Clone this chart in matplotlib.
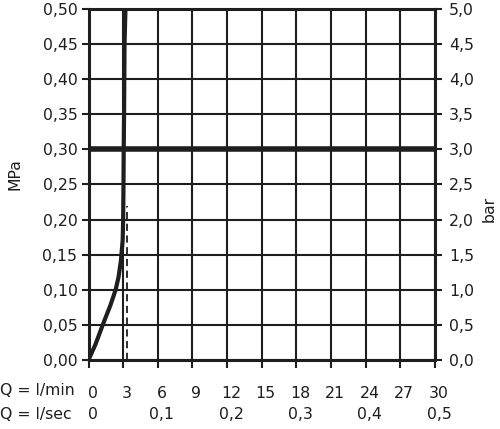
import numpy as np
import matplotlib.pyplot as plt
from matplotlib import transforms

plt.rcParams['font.family'] = ['DejaVu Sans']

# flow curve (l/min vs MPa)
q_lmin = [0, 0.6, 1.28, 1.9, 2.35, 2.6, 2.81, 2.96, 3.0, 3.03, 3.05, 3.08, 3.1, 3.12, 3.2]
p_mpa = [0, 0.022, 0.052, 0.078, 0.1, 0.118, 0.142, 0.171, 0.2, 0.25, 0.3, 0.35, 0.4, 0.45, 0.5]
dash_q = [3.3, 3.3]
dash_p = [0, 0.22]
limit_p = 0.30

x_ticks = list(range(0, 31, 3))
x_labels = [str(v) for v in x_ticks]
sec_pos = [0, 6, 12, 18, 24, 30]
sec_labels = ["0", "0,1", "0,2", "0,3", "0,4", "0,5"]
y_ticks = np.arange(0, 0.501, 0.05)
y_labels = ["%.2f" % v for v in y_ticks]
bar_ticks = np.arange(0, 5.01, 0.5)
bar_labels = ["%.1f" % v for v in bar_ticks]

col = "#1e1e1e"
fs = 11.3

fig = plt.figure(figsize=(5, 4.29), dpi=100)
ax = fig.add_axes([0.177, 0.161, 0.693, 0.818])

ax.set_xlim(0, 30)
ax.set_ylim(0, 0.5)
ax.set_xticks(x_ticks)
ax.set_xticklabels(x_labels, fontsize=fs, color=col)
ax.set_yticks(y_ticks)
ax.set_yticklabels([s.replace(".", ",") for s in y_labels], fontsize=fs, color=col)
ax.grid(True, color=col, linewidth=1.5)
ax.set_axisbelow(True)
ax.tick_params(axis='y', length=5, width=1.5, color=col, pad=3)
ax.tick_params(axis='x', length=6, width=1.5, color=col, pad=13)
for s in ax.spines.values():
    s.set_linewidth(2.2)
    s.set_color(col)
    s.set_zorder(5)

# labels in the original sit a few px right of their ticks
shift = transforms.ScaledTranslation(4 / 100, 0, fig.dpi_scale_trans)
for lab in ax.get_xticklabels():
    lab.set_transform(lab.get_transform() + shift)

ax.axhline(limit_p, color=col, linewidth=4, zorder=3)
ax.plot(dash_q, dash_p, color=col, linewidth=1.3, linestyle=(0, (4, 2.5)), zorder=3)
ax.plot(q_lmin, p_mpa, color=col, linewidth=3, solid_capstyle='butt', zorder=4)

ax.set_ylabel("MPa", fontsize=fs, color=col)
ax.yaxis.set_label_coords(-0.19, 0.53)

ax2 = ax.twinx()
ax2.set_ylim(0, 5)
ax2.set_yticks(bar_ticks)
ax2.set_yticklabels([s.replace(".", ",") for s in bar_labels], fontsize=fs, color=col)
ax2.tick_params(axis='y', length=5, width=1.5, color=col, pad=5)
for s in ax2.spines.values():
    s.set_visible(False)
ax2.set_ylabel("bar", fontsize=fs, color=col)
ax2.yaxis.set_label_coords(1.135, 0.43)

trans = transforms.blended_transform_factory(ax.transData, fig.transFigure) + shift
for p, lab in zip(sec_pos, sec_labels):
    ax.text(p, 0.033, lab, transform=trans, ha='center', va='center', fontsize=fs, color=col)
fig.text(0.0, 0.089, "Q = l/min", ha='left', va='center', fontsize=fs, color=col)
fig.text(0.0, 0.033, "Q = l/sec", ha='left', va='center', fontsize=fs, color=col)

fig.savefig("out.png", dpi=100)
